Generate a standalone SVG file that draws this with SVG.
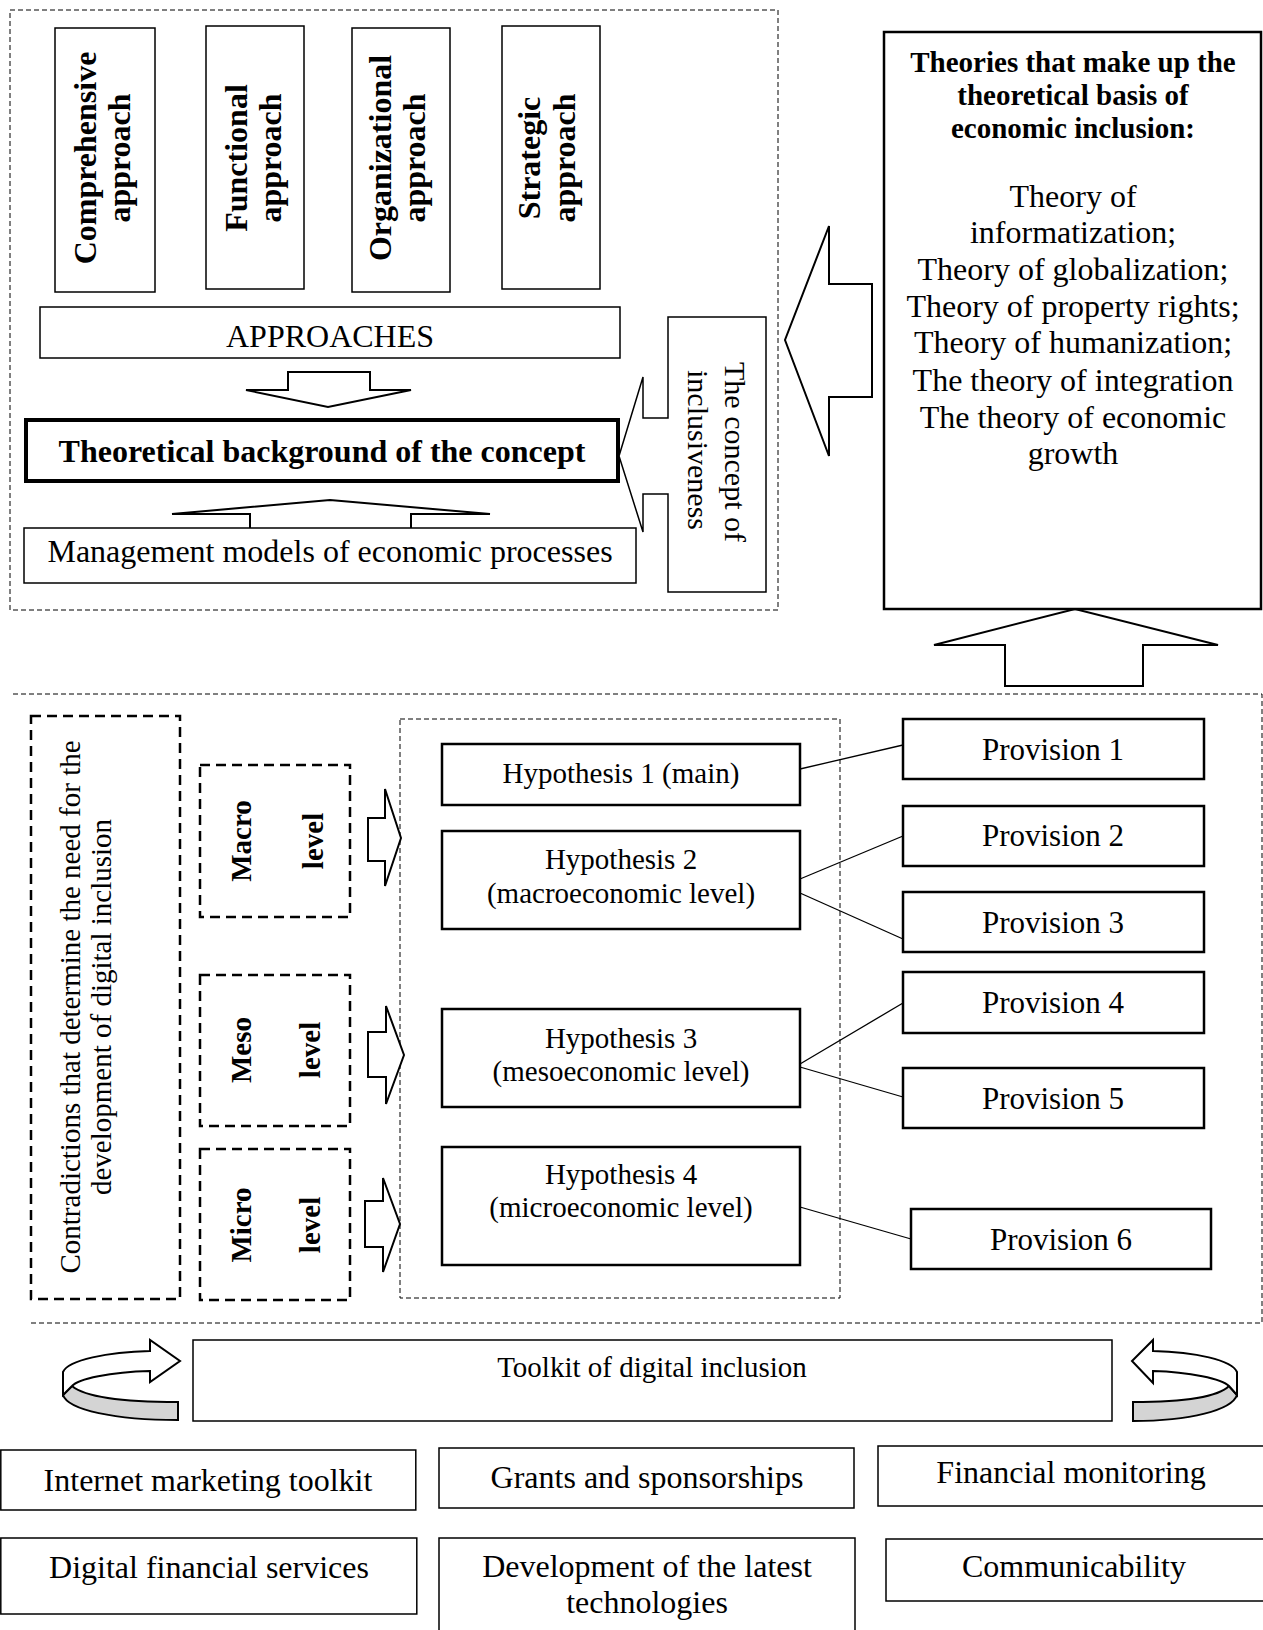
<svg xmlns="http://www.w3.org/2000/svg" width="1263" height="1630" viewBox="0 0 1263 1630">
<style>
.bx{fill:#fff;stroke:#000;stroke-width:1.5}
.bx2{fill:#fff;stroke:#000;stroke-width:2.5}
.dt{fill:none;stroke:#000;stroke-width:1;stroke-dasharray:5 3}
.dk{fill:none;stroke:#000;stroke-width:2.5;stroke-dasharray:10 6}
.ar{fill:#fff;stroke:#000;stroke-width:2;stroke-linejoin:miter}
.ln{fill:none;stroke:#000;stroke-width:1.3}
.gr{fill:#d4d4d4;stroke:#000;stroke-width:2}
text{font-family:"Liberation Serif","Times New Roman",serif;fill:#000}
.b{font-weight:bold}
.m{text-anchor:middle}
</style>
<rect width="1263" height="1630" fill="#fff"/>

<!-- frames -->
<g id="frames">
<rect class="dt" x="10" y="10" width="768" height="600"/>
<path class="dt" d="M13,694 H1262 V1323 H30"/>
<rect class="dt" x="400" y="719" width="440" height="579"/>
</g>

<!-- connectors -->
<g id="connectors">
<path class="ar" d="M288,372 H370 V390 H411 L328,407 L246,390 H288 Z"/>
<path class="ar" d="M250,528 V514 H172 L330,500 L490,514 H411 V528"/>
<path class="ar" d="M872,284 V397 H829 V456 L785,340 L829,226 V284 Z"/>
<path class="ar" d="M1005,686 V645 H934 L1075,609 L1218,645 H1143 V686 Z"/>
<path class="ar" d="M368,818 H385 V789 L401,838 L385,886 V861 H368 Z"/>
<path class="ar" d="M368,1032 H386 V1006 L404,1055 L386,1104 V1077 H368 Z"/>
<path class="ar" d="M365,1201 H383 V1178 L400,1224 L383,1272 V1247 H365 Z"/>
<line class="ln" x1="800" y1="769" x2="903" y2="745"/>
<line class="ln" x1="800" y1="879" x2="903" y2="836"/>
<line class="ln" x1="800" y1="893" x2="903" y2="939"/>
<line class="ln" x1="800" y1="1064" x2="903" y2="1003"/>
<line class="ln" x1="800" y1="1067" x2="903" y2="1097"/>
<line class="ln" x1="800" y1="1207" x2="911" y2="1239"/>
<g id="cycle-left">
<path class="gr" d="M72,1386 C86,1398 130,1402 178,1402 L178,1420 C115,1420 68,1410 63,1395 Z"/>
<path class="ar" d="M63,1395 L63,1372 C68,1360 108,1352 150,1351 L150,1340 L180,1361 L150,1382 L150,1371 C110,1372 78,1379 72,1386 Z"/>
</g>
<g id="cycle-right">
<path class="gr" d="M1229,1386 C1217,1398 1180,1402 1133,1402 L1133,1421 C1190,1421 1232,1410 1237,1395 Z"/>
<path class="ar" d="M1237,1395 L1237,1372 C1232,1360 1195,1352 1153,1351 L1153,1340 L1132,1361 L1153,1383 L1153,1371 C1190,1372 1222,1379 1229,1386 Z"/>
</g>
</g>

<!-- top section nodes -->
<g id="comprehensive">
<rect class="bx" x="55" y="28" width="100" height="264"/>
<text class="b m" font-size="32" transform="translate(96,158) rotate(-90)">Comprehensive</text>
<text class="b m" font-size="32" transform="translate(130,158) rotate(-90)">approach</text>
</g>
<g id="functional">
<rect class="bx" x="206" y="26" width="98" height="263"/>
<text class="b m" font-size="32" transform="translate(247,158) rotate(-90)">Functional</text>
<text class="b m" font-size="32" transform="translate(281,158) rotate(-90)">approach</text>
</g>
<g id="organizational">
<rect class="bx" x="352" y="28" width="98" height="264"/>
<text class="b m" font-size="32" transform="translate(391,158) rotate(-90)">Organizational</text>
<text class="b m" font-size="32" transform="translate(425,158) rotate(-90)">approach</text>
</g>
<g id="strategic">
<rect class="bx" x="502" y="26" width="98" height="263"/>
<text class="b m" font-size="32" transform="translate(540,158) rotate(-90)">Strategic</text>
<text class="b m" font-size="32" transform="translate(575,158) rotate(-90)">approach</text>
</g>
<g id="approaches">
<rect class="bx" x="40" y="307" width="580" height="51"/>
<text class="m" font-size="32" x="330" y="347">APPROACHES</text>
</g>
<g id="theoretical-background">
<rect fill="#fff" stroke="#000" stroke-width="4" x="26" y="420" width="592" height="61"/>
<text class="b m" font-size="32" x="322" y="462">Theoretical background of the concept</text>
</g>
<g id="management-models">
<rect class="bx" x="24" y="528" width="612" height="55"/>
<text class="m" font-size="32" x="330" y="562">Management models of economic processes</text>
</g>
<g id="concept-inclusiveness">
<path class="bx" d="M668,317 H766 V592 H668 V494 H643 V532 L619,456 L643,377 V418 H668 Z"/>
<text class="m" font-size="30" transform="translate(725,452) rotate(90)">The concept of</text>
<text class="m" font-size="30" transform="translate(688,450) rotate(90)">inclusiveness</text>
</g>
<g id="theories">
<rect class="bx2" x="884" y="32" width="377" height="577"/>
<text class="b m" font-size="29" x="1073" y="72">Theories that make up the</text>
<text class="b m" font-size="29" x="1073" y="105">theoretical basis of</text>
<text class="b m" font-size="29" x="1073" y="138">economic inclusion:</text>
<text class="m" font-size="32" x="1073" y="207">Theory of</text>
<text class="m" font-size="32" x="1073" y="243">informatization;</text>
<text class="m" font-size="32" x="1073" y="280">Theory of globalization;</text>
<text class="m" font-size="32" x="1073" y="317">Theory of property rights;</text>
<text class="m" font-size="32" x="1073" y="353">Theory of humanization;</text>
<text class="m" font-size="32" x="1073" y="391">The theory of integration</text>
<text class="m" font-size="32" x="1073" y="428">The theory of economic</text>
<text class="m" font-size="32" x="1073" y="464">growth</text>
</g>

<!-- middle section nodes -->
<g id="contradictions">
<rect class="dk" x="31" y="716" width="149" height="583"/>
<text class="m" font-size="29" transform="translate(80,1007) rotate(-90)">Contradictions that determine the need for the</text>
<text class="m" font-size="29" transform="translate(111,1007) rotate(-90)">development of digital inclusion</text>
</g>
<g id="macro-level">
<rect class="dk" x="200" y="765" width="150" height="152"/>
<text class="b m" font-size="29" transform="translate(251,841) rotate(-90)">Macro</text>
<text class="b m" font-size="29" transform="translate(323,841) rotate(-90)">level</text>
</g>
<g id="meso-level">
<rect class="dk" x="200" y="975" width="150" height="151"/>
<text class="b m" font-size="29" transform="translate(251,1050) rotate(-90)">Meso</text>
<text class="b m" font-size="29" transform="translate(320,1050) rotate(-90)">level</text>
</g>
<g id="micro-level">
<rect class="dk" x="200" y="1149" width="150" height="151"/>
<text class="b m" font-size="29" transform="translate(251,1225) rotate(-90)">Micro</text>
<text class="b m" font-size="29" transform="translate(320,1225) rotate(-90)">level</text>
</g>
<g id="hypothesis-1">
<rect class="bx2" x="442" y="744" width="358" height="61"/>
<text class="m" font-size="29" x="621" y="783">Hypothesis 1 (main)</text>
</g>
<g id="hypothesis-2">
<rect class="bx2" x="442" y="831" width="358" height="98"/>
<text class="m" font-size="29" x="621" y="869">Hypothesis 2</text>
<text class="m" font-size="29" x="621" y="903">(macroeconomic level)</text>
</g>
<g id="hypothesis-3">
<rect class="bx2" x="442" y="1009" width="358" height="98"/>
<text class="m" font-size="29" x="621" y="1048">Hypothesis 3</text>
<text class="m" font-size="29" x="621" y="1081">(mesoeconomic level)</text>
</g>
<g id="hypothesis-4">
<rect class="bx2" x="442" y="1147" width="358" height="118"/>
<text class="m" font-size="29" x="621" y="1184">Hypothesis 4</text>
<text class="m" font-size="29" x="621" y="1217">(microeconomic level)</text>
</g>
<g id="provision-1">
<rect class="bx2" x="903" y="719" width="301" height="60"/>
<text class="m" font-size="31" x="1053" y="760">Provision 1</text>
</g>
<g id="provision-2">
<rect class="bx2" x="903" y="806" width="301" height="60"/>
<text class="m" font-size="31" x="1053" y="846">Provision 2</text>
</g>
<g id="provision-3">
<rect class="bx2" x="903" y="892" width="301" height="60"/>
<text class="m" font-size="31" x="1053" y="933">Provision 3</text>
</g>
<g id="provision-4">
<rect class="bx2" x="903" y="972" width="301" height="61"/>
<text class="m" font-size="31" x="1053" y="1013">Provision 4</text>
</g>
<g id="provision-5">
<rect class="bx2" x="903" y="1068" width="301" height="60"/>
<text class="m" font-size="31" x="1053" y="1109">Provision 5</text>
</g>
<g id="provision-6">
<rect class="bx2" x="911" y="1209" width="300" height="60"/>
<text class="m" font-size="31" x="1061" y="1250">Provision 6</text>
</g>

<!-- bottom section nodes -->
<g id="toolkit">
<rect class="bx" x="193" y="1340" width="919" height="81"/>
<text class="m" font-size="29" x="652" y="1377">Toolkit of digital inclusion</text>
</g>
<g id="internet-marketing">
<rect class="bx" x="0.8" y="1450" width="415" height="60"/>
<text class="m" font-size="32" x="208" y="1491">Internet marketing toolkit</text>
</g>
<g id="grants">
<rect class="bx" x="439" y="1448" width="415" height="60"/>
<text class="m" font-size="32" x="647" y="1488">Grants and sponsorships</text>
</g>
<g id="financial-monitoring">
<rect class="bx" x="878" y="1446" width="390" height="60"/>
<text class="m" font-size="32" x="1071" y="1483">Financial monitoring</text>
</g>
<g id="digital-financial">
<rect class="bx" x="0.8" y="1538" width="416" height="76"/>
<text class="m" font-size="32" x="209" y="1578">Digital financial services</text>
</g>
<g id="latest-technologies">
<rect class="bx" x="439" y="1538" width="416" height="100"/>
<text class="m" font-size="32" x="647" y="1577">Development of the latest</text>
<text class="m" font-size="32" x="647" y="1613">technologies</text>
</g>
<g id="communicability">
<rect class="bx" x="886" y="1539" width="382" height="62"/>
<text class="m" font-size="32" x="1074" y="1577">Communicability</text>
</g>
</svg>
